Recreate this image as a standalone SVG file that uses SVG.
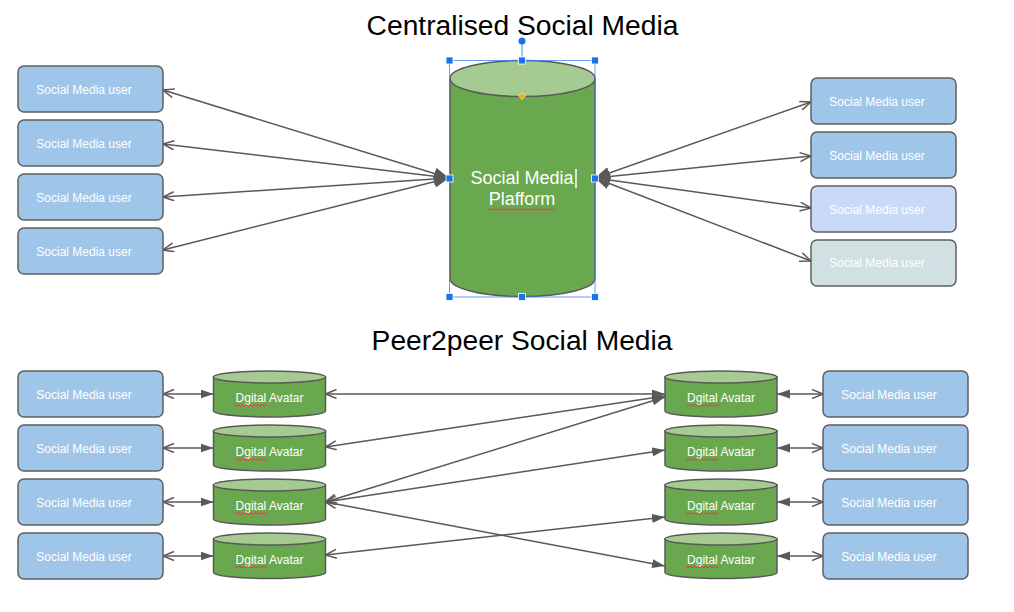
<svg xmlns="http://www.w3.org/2000/svg" width="1014" height="612" viewBox="0 0 1014 612">
<style>
.title{font-family:"Liberation Sans",Arial,sans-serif;font-size:28.2px;fill:#000;text-anchor:middle}
.box{stroke:#5f5f5f;stroke-width:1.5}
.ut{font-family:"Liberation Sans",Arial,sans-serif;font-size:12px;fill:#ffffff;text-anchor:middle}
.cyl{fill:#6aa84f;stroke:#595959;stroke-width:1.5}
.cyltop{fill:#a6cb92;stroke:#595959;stroke-width:1.5}
.ct{font-family:"Liberation Sans",Arial,sans-serif;font-size:18px;fill:#ffffff;text-anchor:middle}
.at{font-family:"Liberation Sans",Arial,sans-serif;font-size:12px;fill:#ffffff;text-anchor:middle}
.sq{fill:none;stroke:#e0393e;stroke-width:1}
.conn line{stroke:#595959;stroke-width:1.5;fill:none}
.h{fill:#1a73e8;stroke:#ffffff;stroke-width:0.8}
</style>
<defs>
<marker id="open" markerUnits="userSpaceOnUse" markerWidth="14" markerHeight="12" refX="11.5" refY="5" orient="auto-start-reverse" viewBox="0 0 14 12">
<path d="M0.5,0.5 L11.5,5 L0.5,9.5" fill="none" stroke="#595959" stroke-width="1.5"/>
</marker>
<marker id="fill" markerUnits="userSpaceOnUse" markerWidth="14" markerHeight="10" refX="13" refY="4.5" orient="auto-start-reverse" viewBox="0 0 14 10">
<path d="M0,0 L13,4.5 L0,9 Z" fill="#595959"/>
</marker>
<marker id="big" markerUnits="userSpaceOnUse" markerWidth="16" markerHeight="14" refX="15" refY="6" orient="auto-start-reverse" viewBox="0 0 16 14">
<path d="M0,0 L15,6 L0,12 Z" fill="#595959"/>
</marker>
<path id="dsq" d="M0,0 l2,2 l2,-2 l2,2 l2,-2 l2,2 l2,-2 l2,2 l2,-2 l2,2 l2,-2 l2,2 l2,-2 l2,2 l2,-2 l2,2 l2,-2"/>
<path id="psq" d="M0,0 l2,2 l2,-2 l2,2 l2,-2 l2,2 l2,-2 l2,2 l2,-2 l2,2 l2,-2 l2,2 l2,-2 l2,2 l2,-2 l2,2 l2,-2 l2,2 l2,-2 l2,2 l2,-2 l2,2 l2,-2 l2,2 l2,-2 l2,2 l2,-2 l2,2 l2,-2 l2,2 l2,-2 l2,2 l2,-2 l2,2 l2,-2"/>
</defs>

<text class="title" x="522.5" y="35">Centralised Social Media</text>
<text class="title" x="522" y="350">Peer2peer Social Media</text>

<g id="connectors" class="conn">
<line x1="163" y1="90" x2="449" y2="178" marker-start="url(#open)" marker-end="url(#big)"/>
<line x1="163" y1="144" x2="449" y2="178" marker-start="url(#open)" marker-end="url(#big)"/>
<line x1="163" y1="197" x2="449" y2="178" marker-start="url(#open)" marker-end="url(#big)"/>
<line x1="163" y1="250" x2="449" y2="178" marker-start="url(#open)" marker-end="url(#big)"/>
<line x1="595" y1="178" x2="811" y2="102" marker-start="url(#big)" marker-end="url(#open)"/>
<line x1="595" y1="178" x2="811" y2="156" marker-start="url(#big)" marker-end="url(#open)"/>
<line x1="595" y1="178" x2="811" y2="208" marker-start="url(#big)" marker-end="url(#open)"/>
<line x1="595" y1="178" x2="811" y2="261" marker-start="url(#big)" marker-end="url(#open)"/>

<line x1="163" y1="394" x2="213.5" y2="394" marker-start="url(#open)" marker-end="url(#fill)"/>
<line x1="163" y1="448" x2="213.5" y2="448" marker-start="url(#open)" marker-end="url(#fill)"/>
<line x1="163" y1="502" x2="213.5" y2="502" marker-start="url(#open)" marker-end="url(#fill)"/>
<line x1="163" y1="556" x2="213.5" y2="556" marker-start="url(#open)" marker-end="url(#fill)"/>

<line x1="777" y1="394" x2="823" y2="394" marker-start="url(#fill)" marker-end="url(#open)"/>
<line x1="777" y1="448" x2="823" y2="448" marker-start="url(#fill)" marker-end="url(#open)"/>
<line x1="777" y1="502" x2="823" y2="502" marker-start="url(#fill)" marker-end="url(#open)"/>
<line x1="777" y1="556" x2="823" y2="556" marker-start="url(#fill)" marker-end="url(#open)"/>

<line x1="325.5" y1="394" x2="665" y2="394" marker-start="url(#open)" marker-end="url(#fill)"/>
<line x1="325.5" y1="447" x2="665" y2="396" marker-start="url(#open)" marker-end="url(#fill)"/>
<line x1="325.5" y1="502" x2="665" y2="397" marker-start="url(#open)" marker-end="url(#fill)"/>
<line x1="325.5" y1="502" x2="665" y2="450" marker-start="url(#open)" marker-end="url(#fill)"/>
<line x1="325.5" y1="502" x2="665" y2="566" marker-start="url(#open)" marker-end="url(#fill)"/>
<line x1="325.5" y1="555" x2="665" y2="517" marker-start="url(#open)" marker-end="url(#fill)"/>
</g>

<g id="cu-l1"><rect class="box" x="18" y="66" width="145" height="46" rx="6" fill="#9fc5e8"/><text class="ut" x="84" y="93.5">Social Media user</text></g>
<g id="cu-l2"><rect class="box" x="18" y="120" width="145" height="46" rx="6" fill="#9fc5e8"/><text class="ut" x="84" y="147.5">Social Media user</text></g>
<g id="cu-l3"><rect class="box" x="18" y="174" width="145" height="46" rx="6" fill="#9fc5e8"/><text class="ut" x="84" y="201.5">Social Media user</text></g>
<g id="cu-l4"><rect class="box" x="18" y="228" width="145" height="46" rx="6" fill="#9fc5e8"/><text class="ut" x="84" y="255.5">Social Media user</text></g>

<g id="cu-r1"><rect class="box" x="811" y="78" width="145" height="46" rx="6" fill="#9fc5e8"/><text class="ut" x="877" y="105.5">Social Media user</text></g>
<g id="cu-r2"><rect class="box" x="811" y="132" width="145" height="46" rx="6" fill="#9fc5e8"/><text class="ut" x="877" y="159.5">Social Media user</text></g>
<g id="cu-r3"><rect class="box" x="811" y="186" width="145" height="46" rx="6" fill="#c9daf8"/><text class="ut" x="877" y="213.5">Social Media user</text></g>
<g id="cu-r4"><rect class="box" x="811" y="240" width="145" height="46" rx="6" fill="#d0e0e3"/><text class="ut" x="877" y="267">Social Media user</text></g>

<g id="platform">
<path class="cyl" d="M450,78.5 L450,278.5 A72.5,18 0 0 0 595,278.5 L595,78.5 Z"/>
<ellipse class="cyltop" cx="522.5" cy="78.5" rx="72.5" ry="18"/>
<text class="ct" x="522" y="184">Social Media</text>
<text class="ct" x="522" y="205">Plafform</text>
<line x1="576" y1="169" x2="576" y2="188" stroke="#ffffff" stroke-width="1.5"/>
<use href="#psq" x="488" y="208.5" class="sq"/>
<rect x="449.5" y="60.5" width="145.5" height="236.5" fill="none" stroke="#4285f4" stroke-width="1" opacity="0.8"/>
<line x1="522" y1="41" x2="522" y2="60" stroke="#4285f4" stroke-width="1"/>
<circle cx="522" cy="41" r="3.5" fill="#1a73e8"/>
<rect class="h" x="446" y="57" width="7" height="7"/>
<rect class="h" x="518.5" y="57" width="7" height="7"/>
<rect class="h" x="591.5" y="57" width="7" height="7"/>
<rect class="h" x="446" y="175" width="7" height="7"/>
<rect class="h" x="591.5" y="175" width="7" height="7"/>
<rect class="h" x="446" y="293.5" width="7" height="7"/>
<rect class="h" x="518.5" y="293.5" width="7" height="7"/>
<rect class="h" x="591.5" y="293.5" width="7" height="7"/>
<path d="M522,92.5 L525.5,96 L522,99.5 L518.5,96 Z" fill="#f9ab00" stroke="#ffffff" stroke-width="0.6"/>
</g>

<g id="pu-l1"><rect class="box" x="18" y="371" width="145" height="46" rx="6" fill="#9fc5e8"/><text class="ut" x="84" y="398.5">Social Media user</text></g>
<g id="pu-l2"><rect class="box" x="18" y="425" width="145" height="46" rx="6" fill="#9fc5e8"/><text class="ut" x="84" y="452.5">Social Media user</text></g>
<g id="pu-l3"><rect class="box" x="18" y="479" width="145" height="46" rx="6" fill="#9fc5e8"/><text class="ut" x="84" y="506.5">Social Media user</text></g>
<g id="pu-l4"><rect class="box" x="18" y="533" width="145" height="46" rx="6" fill="#9fc5e8"/><text class="ut" x="84" y="560.5">Social Media user</text></g>

<g id="pu-r1"><rect class="box" x="823" y="371" width="145" height="46" rx="6" fill="#9fc5e8"/><text class="ut" x="889" y="398.5">Social Media user</text></g>
<g id="pu-r2"><rect class="box" x="823" y="425" width="145" height="46" rx="6" fill="#9fc5e8"/><text class="ut" x="889" y="452.5">Social Media user</text></g>
<g id="pu-r3"><rect class="box" x="823" y="479" width="145" height="46" rx="6" fill="#9fc5e8"/><text class="ut" x="889" y="506.5">Social Media user</text></g>
<g id="pu-r4"><rect class="box" x="823" y="533" width="145" height="46" rx="6" fill="#9fc5e8"/><text class="ut" x="889" y="560.5">Social Media user</text></g>

<g id="av-l1"><path class="cyl" d="M213.5,377 L213.5,411 A56,6 0 0 0 325.5,411 L325.5,377 Z"/><ellipse class="cyltop" cx="269.5" cy="377" rx="56" ry="6"/><text class="at" x="269.5" y="402">Dgital Avatar</text><use href="#dsq" x="234.5" y="404.5" class="sq"/></g>
<g id="av-l2"><path class="cyl" d="M213.5,431 L213.5,465 A56,6 0 0 0 325.5,465 L325.5,431 Z"/><ellipse class="cyltop" cx="269.5" cy="431" rx="56" ry="6"/><text class="at" x="269.5" y="456">Dgital Avatar</text><use href="#dsq" x="234.5" y="458.5" class="sq"/></g>
<g id="av-l3"><path class="cyl" d="M213.5,485 L213.5,519 A56,6 0 0 0 325.5,519 L325.5,485 Z"/><ellipse class="cyltop" cx="269.5" cy="485" rx="56" ry="6"/><text class="at" x="269.5" y="510">Dgital Avatar</text><use href="#dsq" x="234.5" y="512.5" class="sq"/></g>
<g id="av-l4"><path class="cyl" d="M213.5,539 L213.5,572.5 A56,6 0 0 0 325.5,572.5 L325.5,539 Z"/><ellipse class="cyltop" cx="269.5" cy="539" rx="56" ry="6"/><text class="at" x="269.5" y="563.5">Dgital Avatar</text><use href="#dsq" x="234.5" y="566" class="sq"/></g>

<g id="av-r1"><path class="cyl" d="M665,377 L665,411 A56,6 0 0 0 777,411 L777,377 Z"/><ellipse class="cyltop" cx="721" cy="377" rx="56" ry="6"/><text class="at" x="721" y="402">Dgital Avatar</text><use href="#dsq" x="686" y="404.5" class="sq"/></g>
<g id="av-r2"><path class="cyl" d="M665,431 L665,465 A56,6 0 0 0 777,465 L777,431 Z"/><ellipse class="cyltop" cx="721" cy="431" rx="56" ry="6"/><text class="at" x="721" y="456">Dgital Avatar</text><use href="#dsq" x="686" y="458.5" class="sq"/></g>
<g id="av-r3"><path class="cyl" d="M665,485 L665,519 A56,6 0 0 0 777,519 L777,485 Z"/><ellipse class="cyltop" cx="721" cy="485" rx="56" ry="6"/><text class="at" x="721" y="510">Dgital Avatar</text><use href="#dsq" x="686" y="512.5" class="sq"/></g>
<g id="av-r4"><path class="cyl" d="M665,539 L665,572.5 A56,6 0 0 0 777,572.5 L777,539 Z"/><ellipse class="cyltop" cx="721" cy="539" rx="56" ry="6"/><text class="at" x="721" y="563.5">Dgital Avatar</text><use href="#dsq" x="686" y="566" class="sq"/></g>
</svg>
